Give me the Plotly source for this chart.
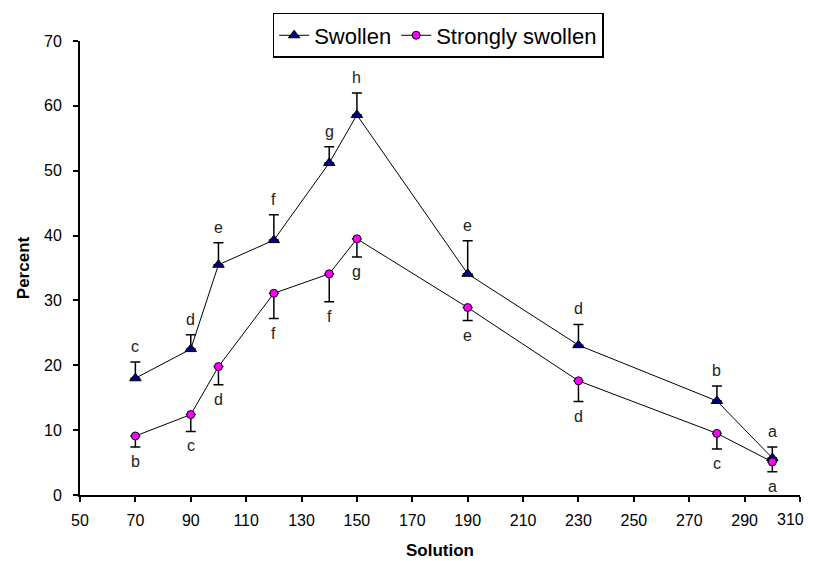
import plotly.graph_objects as go

solution = [70, 90, 100, 120, 140, 150, 190, 230, 280, 300]
swollen = [18.0, 22.5, 35.5, 39.3, 51.2, 58.6, 34.1, 23.1, 14.5, 5.7]
swollen_err = [2.5, 2.2, 3.4, 3.9, 2.5, 3.4, 5.1, 3.2, 2.3, 1.7]
swollen_letters = ["c", "d", "e", "f", "g", "h", "e", "d", "b", "a"]
strong = [9.1, 12.4, 19.8, 31.1, 34.1, 39.5, 28.9, 17.6, 9.5, 5.1]
strong_err = [1.7, 2.6, 2.8, 3.9, 4.3, 2.8, 2.0, 3.2, 2.4, 1.5]
strong_letters = ["b", "c", "d", "f", "f", "g", "e", "d", "c", "a"]

x_ticks = list(range(50, 311, 20))
y_ticks = list(range(0, 71, 10))

FONT = "Liberation Sans, Arial, sans-serif"

fig = go.Figure()

fig.add_trace(go.Scatter(
    x=solution, y=swollen, mode="lines+markers", name="Swollen",
    line=dict(color="black", width=1),
    marker=dict(symbol="triangle-up", size=10, color="#000080",
                line=dict(color="black", width=1)),
    error_y=dict(type="data", symmetric=False, array=swollen_err,
                 arrayminus=[0] * len(swollen_err), color="black",
                 thickness=1.5, width=5),
))
fig.add_trace(go.Scatter(
    x=solution, y=strong, mode="lines+markers", name="Strongly swollen",
    line=dict(color="black", width=1),
    marker=dict(symbol="circle", size=8, color="#FF00FF",
                line=dict(color="black", width=1)),
    error_y=dict(type="data", symmetric=False, array=[0] * len(strong_err),
                 arrayminus=strong_err, color="black",
                 thickness=1.5, width=5),
))

for xv, v, e, t in zip(solution, swollen, swollen_err, swollen_letters):
    fig.add_annotation(x=xv, y=v + e, text=t, showarrow=False,
                       yanchor="bottom", yshift=5,
                       font=dict(family=FONT, size=16, color="#222222"))
for xv, v, e, t in zip(solution, strong, strong_err, strong_letters):
    fig.add_annotation(x=xv, y=v - e, text=t, showarrow=False,
                       yanchor="top", yshift=-4,
                       font=dict(family=FONT, size=16, color="#222222"))

# last x tick label drawn right-aligned so it is not cut at the page edge
tick_text = [str(t) for t in x_ticks]
last_label = tick_text[-1]
tick_text[-1] = ""
fig.add_annotation(x=x_ticks[-1], y=0, xref="x", yref="y", text=last_label,
                   showarrow=False, xanchor="right", yanchor="middle",
                   xshift=6, yshift=-24,
                   font=dict(family=FONT, size=16, color="black"))

fig.update_layout(
    width=807, height=553,
    margin=dict(l=72, r=15, t=33, b=66, autoexpand=False),
    paper_bgcolor="white", plot_bgcolor="white",
    font=dict(family=FONT, color="black", size=16),
    showlegend=True,
    legend=dict(orientation="h", xref="container", yref="container",
                x=0.533, xanchor="center", y=0.991, yanchor="top",
                bordercolor="black", borderwidth=1.5,
                font=dict(family=FONT, size=22, color="black"),
                traceorder="normal", itemwidth=30),
)
fig.update_xaxes(
    range=[50, 310], tickvals=x_ticks, ticktext=tick_text,
    showgrid=False, zeroline=False, showline=True, linecolor="black", linewidth=2,
    ticks="outside", ticklen=5, tickwidth=2, tickcolor="black",
    tickfont=dict(family=FONT, size=16), ticklabelstandoff=5, automargin=False,
    title=dict(text="<b>Solution</b>", font=dict(family=FONT, size=17), standoff=16),
)
fig.update_yaxes(
    range=[0, 70], tickvals=y_ticks,
    showgrid=False, zeroline=False, showline=True, linecolor="black", linewidth=2,
    ticks="outside", ticklen=5, tickwidth=2, tickcolor="black",
    tickfont=dict(family=FONT, size=16), ticklabelstandoff=8, automargin=False,
    title=dict(text="<b>Percent</b>", font=dict(family=FONT, size=17), standoff=10),
)

fig.write_html("out.html")
